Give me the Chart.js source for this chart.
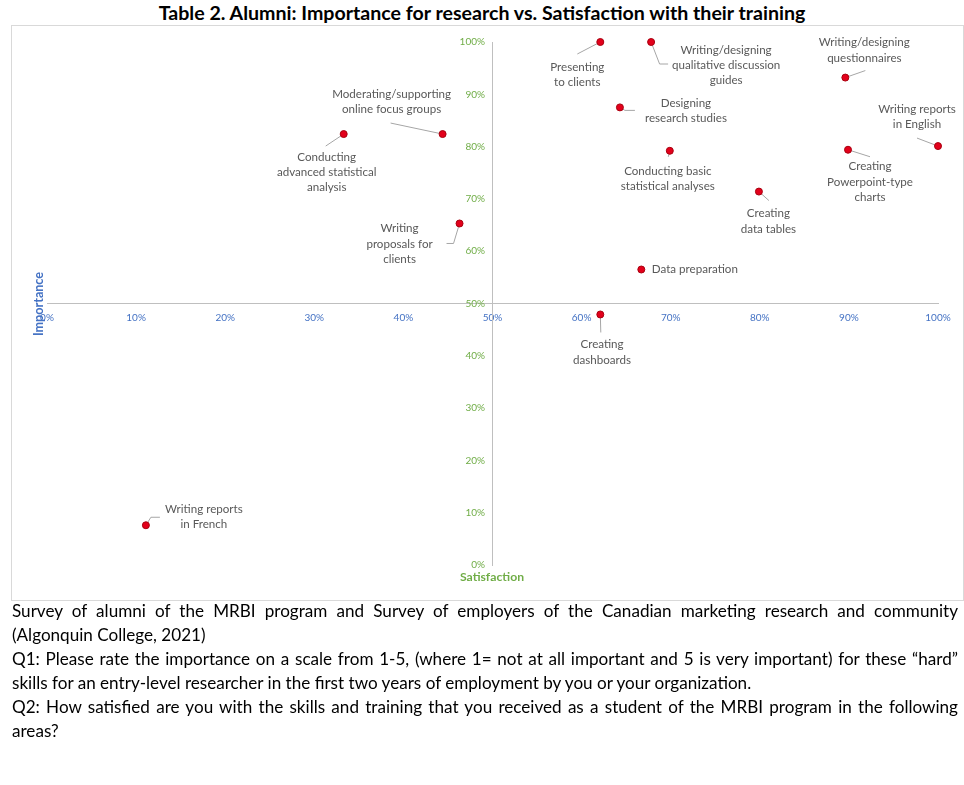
<!DOCTYPE html>
<html>
<head>
<meta charset="utf-8">
<script src="https://cdn.jsdelivr.net/npm/chart.js@4.4.1/dist/chart.umd.min.js"></script>
<style>
  html, body { margin: 0; padding: 0; background: #fff; width: 964px; height: 785px; overflow: hidden; }
  body { position: relative; font-family: Lato, "Open Sans", sans-serif; color: #000; }
  #title { position: absolute; left: 0; top: 1px; width: 964px; text-align: center; font-weight: bold; font-size: 19.6px; line-height: 24px; }
  #box { position: absolute; left: 11px; top: 25px; width: 951px; height: 574px; border: 1px solid #d9d9d9; }
  #wrap { position: absolute; left: 0; top: 0; width: 951px; height: 574px; }
  #ytitle { position: absolute; left: 27px; top: 297px; width: 80px; height: 14px; margin-left: -28px; transform: rotate(-90deg); text-align: center; color: #4472C4; font-weight: bold; font-size: 12.6px; line-height: 14px; }
  #xtitle { position: absolute; left: 452px; top: 569px; width: 80px; text-align: center; color: #70AD47; font-weight: bold; font-size: 12.2px; line-height: 15px; }
  #notes { position: absolute; left: 12px; top: 599px; width: 946px; font-size: 17.1px; line-height: 24px; }
  .j { text-align: justify; text-align-last: justify; white-space: nowrap; }
  .l { text-align: left; white-space: nowrap; }
</style>
</head>
<body>
<div id="title">Table 2. Alumni: Importance for research vs. Satisfaction with their training</div>
<div id="box"><div id="wrap"><canvas id="c"></canvas></div></div>
<div id="ytitle">Importance</div>
<div id="xtitle">Satisfaction</div>
<div id="notes">
  <div class="j">Survey of alumni of the MRBI program and Survey of employers of the Canadian marketing research and community</div>
  <div class="l">(Algonquin College, 2021)</div>
  <div class="j">Q1: Please rate the importance on a scale from 1-5, (where 1= not at all important and 5 is very important) for these “hard”</div>
  <div class="l">skills for an entry-level researcher in the first two years of employment by you or your organization.</div>
  <div class="j">Q2: How satisfied are you with the skills and training that you received as a student of the MRBI program in the following</div>
  <div class="l">areas?</div>
</div>
<script>
// ---- data ----
const skills = [
  "Conducting advanced statistical analysis",
  "Moderating/supporting online focus groups",
  "Writing proposals for clients",
  "Writing reports in French",
  "Presenting to clients",
  "Writing/designing qualitative discussion guides",
  "Writing/designing questionnaires",
  "Designing research studies",
  "Writing reports in English",
  "Conducting basic statistical analyses",
  "Creating Powerpoint-type charts",
  "Creating data tables",
  "Data preparation",
  "Creating dashboards"
];
const labelLines = [
  ["Conducting", "advanced statistical", "analysis"],
  ["Moderating/supporting", "online focus groups"],
  ["Writing", "proposals for", "clients"],
  ["Writing reports", "in French"],
  ["Presenting", "to clients"],
  ["Writing/designing", "qualitative discussion", "guides"],
  ["Writing/designing", "questionnaires"],
  ["Designing", "research studies"],
  ["Writing reports", "in English"],
  ["Conducting basic", "statistical analyses"],
  ["Creating", "Powerpoint-type", "charts"],
  ["Creating", "data tables"],
  ["Data preparation"],
  ["Creating", "dashboards"]
];
const satisfaction = [33.3, 44.4, 46.3, 11.1, 62.1, 67.8, 89.6, 64.3, 100, 69.9, 89.9, 79.9, 66.7, 62.1];
const importance   = [82.4, 82.4, 65.3, 7.6, 100, 100, 93.2, 87.5, 80.1, 79.2, 79.4, 71.4, 56.5, 47.9];
const axisTicks = [0, 10, 20, 30, 40, 50, 60, 70, 80, 90, 100];

// ---- label layout (pixel offsets from each point) ----
const labelLayout = [
  {dx: -17,  dy: 23,   align: "center", leader: [[-18, 12]]},
  {dx: -51,  dy: -40,  align: "center", leader: [[-52, -11]]},
  {dx: -60,  dy: 5,    align: "center", leader: [[-6, 20], [-13, 20]]},
  {dx: 58,   dy: -16,  align: "center", leader: [[5, -8], [14, -8]]},
  {dx: -23,  dy: 25,   align: "center", leader: [[-23, 12]]},
  {dx: 75,   dy: 8,    align: "center", leader: [[8.5, 22], [17, 22]]},
  {dx: 19,   dy: -35,  align: "center", leader: [[20, -7]]},
  {dx: 66,   dy: -4,   align: "center", leader: [[5, 3], [15, 3]]},
  {dx: -21,  dy: -37,  align: "center", leader: [[-21, -8]]},
  {dx: -2,   dy: 20,   align: "center", leader: [[-1.5, 6]]},
  {dx: 22,   dy: 17,   align: "center", leader: [[22, 7]]},
  {dx: 9.5,  dy: 22,   align: "center", leader: [[10, 9]]},
  {dx: 10.5, dy: 0,    align: "left",   leader: []},
  {dx: 1.7,  dy: 30,   align: "center", leader: [[0.5, 18]]}
];

const pointLabels = {
  id: "pointLabels",
  beforeDatasetsDraw(chart) {
    const ctx = chart.ctx;
    const meta = chart.getDatasetMeta(0);
    ctx.save();
    ctx.strokeStyle = "#a6a6a6";
    ctx.lineWidth = 1;
    meta.data.forEach((el, i) => {
      const L = labelLayout[i];
      if (!L.leader.length) return;
      ctx.beginPath();
      ctx.moveTo(el.x, el.y);
      L.leader.forEach(p => ctx.lineTo(el.x + p[0], el.y + p[1]));
      ctx.stroke();
    });
    ctx.restore();
  },
  afterDatasetsDraw(chart) {
    const ctx = chart.ctx;
    const meta = chart.getDatasetMeta(0);
    ctx.save();
    ctx.fillStyle = "#595959";
    ctx.font = "11.6px Lato, 'Open Sans', sans-serif";
    ctx.textBaseline = "middle";
    meta.data.forEach((el, i) => {
      const L = labelLayout[i];
      ctx.textAlign = L.align;
      labelLines[i].forEach((t, k) => {
        ctx.fillText(t, el.x + L.dx, el.y + L.dy + k * 15.3);
      });
    });
    ctx.restore();
  }
};

new Chart(document.getElementById("c"), {
  type: "scatter",
  data: {
    datasets: [{
      label: "Skills",
      data: satisfaction.map((s, i) => ({x: s, y: importance[i]})),
      pointRadius: 3.5,
      pointHoverRadius: 3.5,
      backgroundColor: "#E3001B",
      borderColor: "#A8000F",
      borderWidth: 1,
      clip: false
    }]
  },
  options: {
    responsive: true,
    maintainAspectRatio: false,
    animation: false,
    layout: { padding: { left: 35, right: 25, top: 16, bottom: 35 } },
    plugins: { legend: { display: false }, tooltip: { enabled: false } },
    scales: {
      x: {
        type: "linear",
        min: 0, max: 100,
        position: { y: 50 },
        afterBuildTicks: (s) => { s.ticks = axisTicks.map(v => ({value: v})); },
        grid: { display: false },
        border: { display: true, color: "#bfbfbf", width: 1 },
        ticks: { color: "#4472C4", padding: 0, font: { family: "Lato", size: 10 }, callback: v => v + "%", maxRotation: 0, autoSkip: false }
      },
      y: {
        type: "linear",
        min: 0, max: 100,
        position: { x: 50 },
        afterBuildTicks: (s) => { s.ticks = axisTicks.map(v => ({value: v})); },
        grid: { display: false },
        border: { display: true, color: "#bfbfbf", width: 1 },
        ticks: { color: "#70AD47", padding: 10, font: { family: "Lato", size: 10 }, callback: v => v + "%\u2003", autoSkip: false }
      }
    }
  },
  plugins: [pointLabels]
});
</script>
</body>
</html>
